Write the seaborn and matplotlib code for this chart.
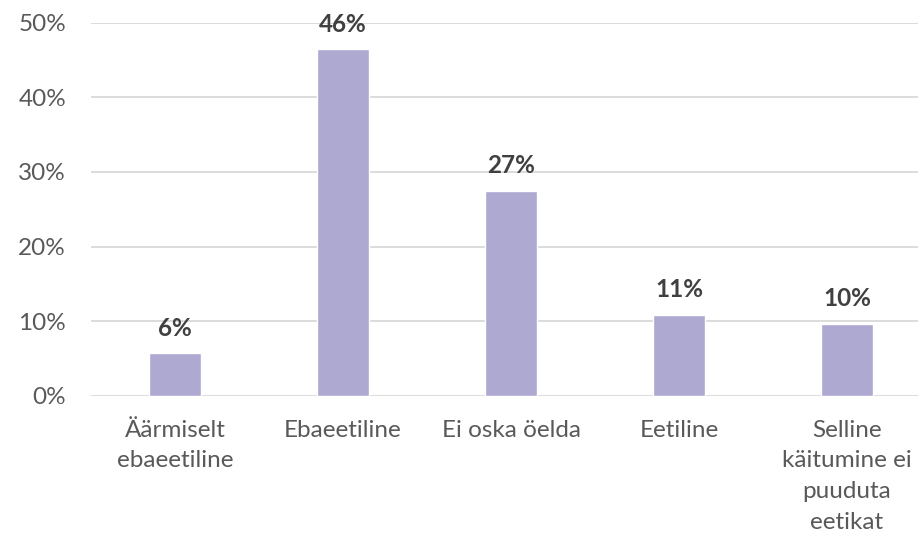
import matplotlib
matplotlib.use("Agg")
import matplotlib.pyplot as plt
import seaborn as sns
import pandas as pd
from matplotlib.ticker import FuncFormatter

categories = ["Äärmiselt\nebaeetiline", "Ebaeetiline", "Ei oska öelda", "Eetiline",
              "Selline\nkäitumine ei\npuuduta\neetikat"]
values = [5.7, 46.4, 27.4, 10.8, 9.6]
value_labels = ["6%", "46%", "27%", "11%", "10%"]
yticks = [0, 10, 20, 30, 40, 50]

df = pd.DataFrame({"cat": categories, "val": values})

sns.set_theme(style="white")
plt.rcParams["font.family"] = ["Lato", "DejaVu Sans"]

fig = plt.figure(figsize=(9.18, 5.47), dpi=100)
ax = fig.add_axes([91 / 918, 1 - 396 / 547, 840 / 918, (396 - 22.5) / 547])

sns.barplot(data=df, x="cat", y="val", color="#ADA9D1", saturation=1, width=0.315, ax=ax)

ax.set_xlim(-0.5, 4.5)
ax.set_ylim(0, 50)
ax.set_yticks(yticks)
ax.yaxis.set_major_formatter(FuncFormatter(lambda v, p: f"{v:.0f}%"))
ax.grid(axis="y", color="#D9D9D9", linewidth=1.3)
ax.set_axisbelow(True)
for s in ax.spines.values():
    s.set_visible(False)
ax.set_xlabel("")
ax.set_ylabel("")
ax.tick_params(axis="both", length=0, labelsize=17.5, colors="#595959")
ax.tick_params(axis="x", pad=17)
ax.tick_params(axis="y", pad=18)
for t in ax.get_xticklabels():
    t.set_linespacing(1.58)

for i, (v, lab) in enumerate(zip(values, value_labels)):
    ax.annotate(lab, (i, v), xytext=(0, 10), textcoords="offset points", ha="center",
                va="bottom", fontsize=17.5, fontweight="bold", color="#404040")

fig.savefig("out.png", dpi=100)
